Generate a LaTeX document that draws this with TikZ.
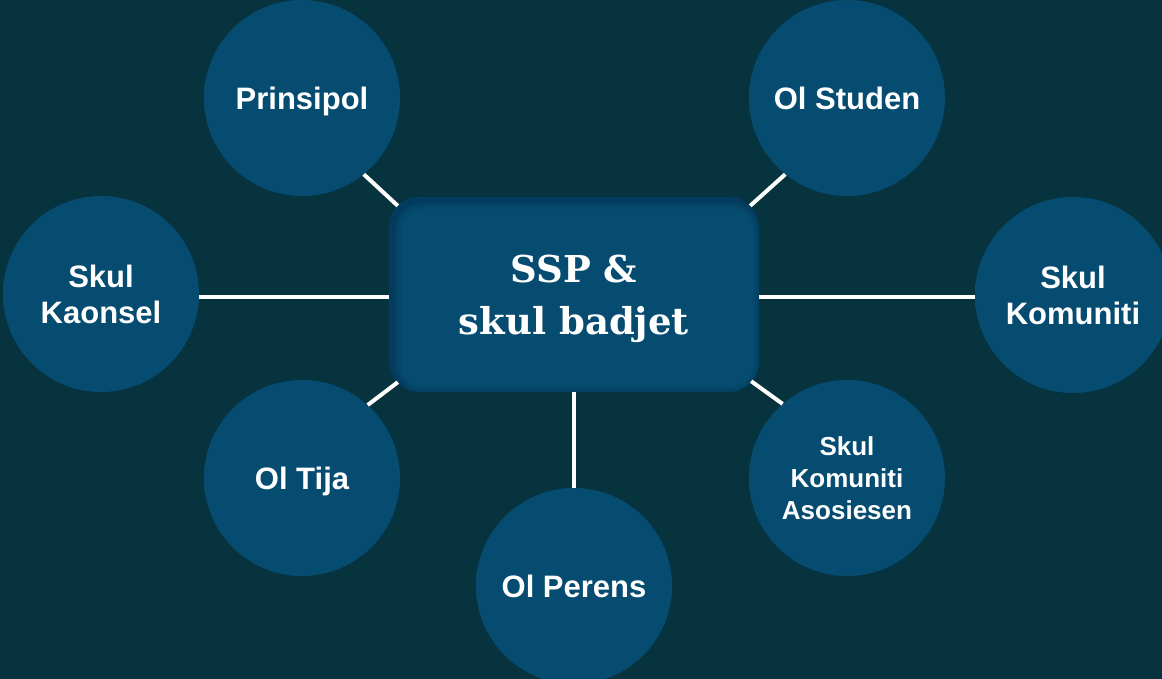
\documentclass[tikz,border=0pt]{standalone}
\usepackage{fontspec}
\setmainfont{Liberation Sans}
\newfontfamily\slabfont{DejaVu Serif}
\usetikzlibrary{calc}
\definecolor{bgc}{HTML}{07333F}
\definecolor{cmid}{HTML}{064C71}
\definecolor{cedge}{HTML}{02304F}
\pgfdeclareradialshading{ballshade}{\pgfpoint{3bp}{-3bp}}{color(0bp)=(cmid); color(43bp)=(cmid); color(53bp)=(cedge); color(60bp)=(cedge)}
\begin{document}
\begin{tikzpicture}[x=1pt,y=-1pt,
  ball/.style={circle, minimum size=196, inner sep=0pt, shading=ballshade,
    text=white, align=center, text depth=0pt,
    font=\bfseries\fontsize{31}{36}\selectfont},
  smallball/.style={ball, font=\bfseries\fontsize{26}{32}\selectfont},
  hub/.style={rectangle, rounded corners=30, minimum width=370, minimum height=195,
    fill=cmid, text=white, align=center, text depth=0pt,
    font=\slabfont\bfseries\fontsize{37}{52}\selectfont,
    path picture={
      \foreach \w/\o in {18/0.12, 13/0.15, 9/0.2, 5/0.25}{
        \draw[cedge, opacity=\o, line width=\w, rounded corners=30]
          ([shift={(3,3)}]path picture bounding box.north west) rectangle
          ([shift={(3,3)}]path picture bounding box.south east);}
    }},
  conn/.style={white, line width=4}]
\useasboundingbox (0,0) rectangle (1162,679);
\fill[bgc] (0,0) rectangle (1162,679);
\clip (0,0) rectangle (1162,679);

\node[hub] (box) at (574,294.5) {SSP \&\\skul badjet};

\node[ball] (pr) at (302,98) {Prinsipol};
\node[ball] (st) at (847,98) {Ol Studen};
\node[ball] (ka) at (101,294) {Skul\\Kaonsel};
\node[ball] (ko) at (1073,295) {Skul\\Komuniti};
\node[ball] (ti) at (302,478) {Ol Tija};
\node[smallball] (as) at (847,478) {Skul\\Komuniti\\Asosiesen};
\node[ball] (pe) at (574,586) {Ol Perens};

\draw[conn] ([yshift=-2]box.west) -- ([yshift=-2]box.west -| ka.east);
\draw[conn] ([yshift=-2]box.east) -- ([yshift=-2]box.east -| ko.west);
\draw[conn] (box.south) -- (pe.north);
\draw[conn] ($(box.north west)+(9,9)$) -- (pr.-51);
\draw[conn] ($(box.north east)+(-9,9)$) -- (st.-129);
\draw[conn] ($(box.south west)+(9,-10)$) -- (ti.48);
\draw[conn] ($(box.south east)+(-8,-11)$) -- (as.131);
\end{tikzpicture}
\end{document}
